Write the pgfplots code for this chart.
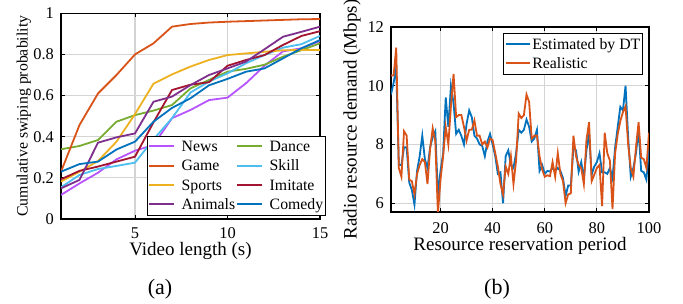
\documentclass[border=0pt]{standalone}
\usepackage{pgfplots}
\pgfplotsset{compat=1.18}
\usepackage{pgfplotstable}
\usepackage{fontspec}
\setmainfont{Liberation Serif}
\definecolor{cNews}{rgb}{0.72,0.33,1.0}
\definecolor{cGame}{HTML}{D95319}
\definecolor{cSports}{HTML}{EDB120}
\definecolor{cAnimals}{HTML}{7E2F8E}
\definecolor{cDance}{HTML}{77AC30}
\definecolor{cSkill}{HTML}{4DBEEE}
\definecolor{cImitate}{HTML}{A2142F}
\definecolor{cComedy}{HTML}{0072BD}
\pgfplotstableread{
x B O
1 9.7 10.35
2 10.1 10.35
3 10.6 11.3
4 7.3 7.2
5 7.3 6.9
6 7.9 8.45
7 7.9 8.3
8 6.7 6.8
9 6.45 6.75
10 5.95 6.3
11 7.1 7.0
12 7.6 7.3
13 8.3 7.5
14 7.5 7.4
15 7.2 6.65
16 7.9 7.85
17 8.25 8.55
18 8.45 8.1
19 6.3 5.65
20 7.1 6.8
21 7.7 7.6
22 9.6 8.6
23 8.6 8.0
24 10.0 9.3
25 9.4 10.4
26 8.36 8.93
27 8.5 9.0
28 8.29 9.0
29 8.0 8.6
30 8.7 8.13
31 9.16 8.5
32 8.93 8.5
33 8.3 8.82
34 8.2 8.3
35 8.0 8.3
36 7.95 8.0
37 7.6 8.1
38 8.1 7.9
39 8.36 8.2
40 8.0 8.15
41 7.6 7.7
42 7.0 7.25
43 7.05 6.65
44 6.0 6.3
45 7.6 7.25
46 7.8 7.0
47 7.3 7.6
48 7.2 6.65
49 7.7 7.45
50 8.5 9.05
51 8.4 8.9
52 8.5 9.0
53 8.85 9.7
54 8.6 9.45
55 8.1 8.2
56 8.2 8.3
57 8.5 8.3
58 7.1 7.6
59 7.3 7.15
60 7.0 6.9
61 7.1 6.95
62 7.08 6.92
63 7.2 7.4
64 7.1 6.9
65 7.2 7.7
66 7.1 7.0
67 6.85 6.75
68 6.25 6.0
69 6.6 6.3
70 6.6 6.33
71 7.9 8.3
72 7.8 7.6
73 7.07 7.3
74 7.4 7.2
75 6.85 6.65
76 7.8 8.15
77 8.36 8.76
78 6.97 6.75
79 7.25 6.97
80 7.4 7.2
81 7.7 7.3
82 7.05 5.9
83 7.05 8.4
84 7.0 7.7
85 7.2 7.45
86 6.85 5.8
87 7.9 7.7
88 8.6 8.35
89 9.28 8.8
90 9.16 9.1
91 10.0 9.3
92 8.25 8.0
93 6.9 7.2
94 7.2 6.9
95 7.7 7.9
96 8.5 8.76
97 7.1 7.55
98 7.05 7.5
99 6.8 7.2
100 7.9 8.4
}\demand
\pgfplotsset{
  every axis/.append style={font=\fontsize{9.5pt}{11pt}\selectfont},
  mystyle/.style={
    scale only axis,
    axis line style={black, line width=0.6pt},
    grid=major,
    major grid style={black!17, line width=0.6pt},
    tick align=inside,
    major tick length=2pt,
    tick style={black, line width=0.5pt},
    tick label style={font=\fontsize{8.2pt}{9.5pt}\selectfont},
    /pgf/number format/assume math mode=true,
    legend cell align=left,
    legend style={draw=black, line width=0.5pt, font=\fontsize{7.9pt}{9pt}\selectfont,
      inner sep=0.6pt, row sep=0pt,
      nodes={inner sep=0.5pt, text height=6.6pt, text depth=2pt}},
    every axis plot/.append style={line width=0.9pt},
    legend image code/.code={\draw[##1, line width=1pt] (0cm,0.3pt) -- (0.43cm,0.3pt);},
  },
}
\begin{document}
\begin{tikzpicture}
\useasboundingbox (0,0) rectangle (341.5pt,152pt);
\begin{axis}[mystyle,
  at={(30.5pt,42.5pt)}, anchor=south west,
  width=129.5pt, height=102.85pt,
  xmin=1, xmax=15, ymin=0, ymax=1,
  xtick={5,10,15}, ytick={0,0.2,0.4,0.6,0.8,1},
  xlabel={Video length (s)},
  ylabel={Cumulative swiping probability},
  xlabel style={at={(axis description cs:0.5,-0.139)}, anchor=center, yshift=-1.5pt},
  xticklabel style={anchor=center, yshift=-7pt},
  ylabel style={font=\fontsize{7.9pt}{9pt}\selectfont, at={(axis description cs:-0.143,0.5)}, anchor=center},
  legend columns=2,
  legend style={at={(1.023,0.015)}, anchor=south east,
    /tikz/every odd column/.append style={column sep=3pt}},
]
\addplot[cNews] coordinates {(1,0.117)(2,0.173)(3,0.225)(4,0.29)(5,0.332)(6,0.36)(7,0.49)(8,0.53)(9,0.578)(10,0.59)(11,0.66)(12,0.745)(13,0.815)(14,0.83)(15,0.865)};
\addlegendentry{News}
\addplot[cDance] coordinates {(1,0.339)(2,0.355)(3,0.384)(4,0.473)(5,0.505)(6,0.527)(7,0.554)(8,0.635)(9,0.676)(10,0.716)(11,0.73)(12,0.75)(13,0.789)(14,0.821)(15,0.854)};
\addlegendentry{Dance}
\addplot[cGame] coordinates {(1,0.23)(2,0.457)(3,0.61)(4,0.70)(5,0.80)(6,0.854)(7,0.935)(8,0.948)(9,0.955)(10,0.959)(11,0.962)(12,0.965)(13,0.968)(14,0.971)(15,0.972)};
\addlegendentry{Game}
\addplot[cSkill] coordinates {(1,0.154)(2,0.214)(3,0.243)(4,0.258)(5,0.274)(6,0.387)(7,0.49)(8,0.615)(9,0.668)(10,0.708)(11,0.757)(12,0.797)(13,0.833)(14,0.85)(15,0.89)};
\addlegendentry{Skill}
\addplot[cSports] coordinates {(1,0.182)(2,0.23)(3,0.282)(4,0.376)(5,0.51)(6,0.658)(7,0.703)(8,0.741)(9,0.773)(10,0.797)(11,0.805)(12,0.813)(13,0.82)(14,0.822)(15,0.821)};
\addlegendentry{Sports}
\addplot[cImitate] coordinates {(1,0.193)(2,0.234)(3,0.255)(4,0.279)(5,0.303)(6,0.47)(7,0.627)(8,0.653)(9,0.665)(10,0.745)(11,0.773)(12,0.797)(13,0.846)(14,0.89)(15,0.913)};
\addlegendentry{Imitate}
\addplot[cAnimals] coordinates {(1,0.149)(2,0.19)(3,0.371)(4,0.397)(5,0.416)(6,0.57)(7,0.595)(8,0.651)(9,0.70)(10,0.732)(11,0.765)(12,0.825)(13,0.886)(14,0.91)(15,0.935)};
\addlegendentry{Animals}
\addplot[cComedy] coordinates {(1,0.23)(2,0.267)(3,0.279)(4,0.338)(5,0.376)(6,0.473)(7,0.54)(8,0.587)(9,0.65)(10,0.681)(11,0.716)(12,0.732)(13,0.781)(14,0.83)(15,0.87)};
\addlegendentry{Comedy}
\end{axis}
\node[font=\fontsize{11pt}{13pt}\selectfont] at (80pt,7.5pt) {(a)};
\begin{axis}[mystyle,
  at={(195.5pt,46pt)}, anchor=south west,
  width=129pt, height=92.5pt,
  xmin=1, xmax=100, ymin=5.7, ymax=12,
  xtick={20,40,60,80,100}, ytick={6,8,10,12},
  xlabel={Resource reservation period},
  ylabel={Radio resource demand (Mbps)},
  xticklabel style={anchor=center, yshift=-8pt},
  xlabel style={at={(axis description cs:0.5,-0.184)}, anchor=center},
  ylabel style={at={(axis description cs:-0.151,0.5)}, anchor=center},
  legend style={at={(0.977,0.967)}, anchor=north east},
]
\addplot[cComedy] table[x=x, y=B] {\demand};
\addlegendentry{Estimated by DT}
\addplot[cGame] table[x=x, y=O] {\demand};
\addlegendentry{Realistic}
\end{axis}
\node[font=\fontsize{11pt}{13pt}\selectfont] at (248.5pt,7.5pt) {(b)};
\end{tikzpicture}
\end{document}
